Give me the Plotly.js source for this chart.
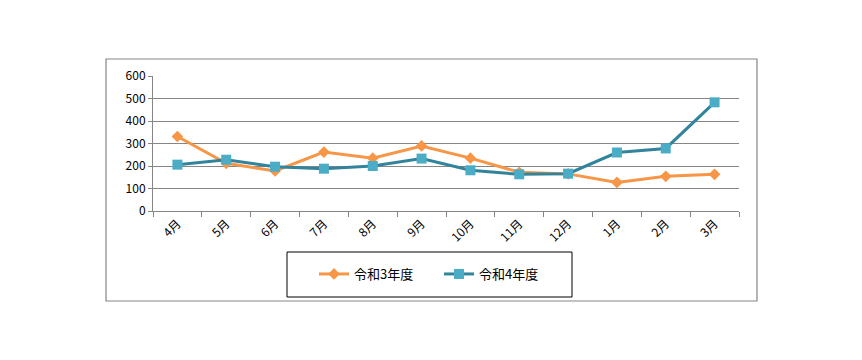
<!DOCTYPE html>
<html>
<head>
<meta charset="utf-8">
<script src="https://cdn.plot.ly/plotly-3.0.1.min.js"></script>
<style>html,body{margin:0;padding:0;background:#fff;}#chart{width:862px;height:360px;}</style>
</head>
<body>
<div id="chart"></div>
<script>
const months = ["4月","5月","6月","7月","8月","9月","10月","11月","12月","1月","2月","3月"];
const seriesNames = ["令和3年度","令和4年度"];
const r3 = [331, 212, 178, 262, 235, 289, 235, 172, 165, 127, 154, 163];
const r4 = [206, 228, 197, 188, 200, 233, 181, 163, 166, 260, 278, 483];
const yTicks = [0,100,200,300,400,500,600];

const FONT = "'Noto Sans CJK JP', 'Noto Sans', sans-serif";
const traces = [
  {x: months, y: r3, name: seriesNames[0], type: "scatter", mode: "lines+markers",
   line: {color: "#F79646", width: 3}, marker: {symbol: "diamond", size: 9, color: "#F79646"}},
  {x: months, y: r4, name: seriesNames[1], type: "scatter", mode: "lines+markers",
   line: {color: "#31849B", width: 3}, marker: {symbol: "square", size: 10, color: "#4BACC6"}}
];
const L = 153, R = 739, T = 76, B = 211;
const W = R - L, H = B - T;
const px = v => (v - L) / W;
const py = v => (B - v) / H;
const layout = {
  width: 862, height: 360,
  margin: {l: L, r: 862 - R, t: T, b: 360 - B},
  paper_bgcolor: "#fff", plot_bgcolor: "#fff",
  font: {family: FONT, size: 12, color: "#000"},
  showlegend: true,
  legend: {orientation: "h", x: px(314), xanchor: "left", y: py(274), yanchor: "middle",
           bgcolor: "rgba(0,0,0,0)", borderwidth: 0, font: {size: 13, family: FONT},
           entrywidth: 80, itemwidth: 30, tracegroupgap: 0},
  xaxis: {type: "category", range: [-0.5, 11.5], showline: true, linecolor: "#868686", linewidth: 1,
          ticks: "outside", tickson: "boundaries", ticklen: 5, tickcolor: "#868686",
          tickangle: -45, showgrid: false, zeroline: false, fixedrange: true,
          tickfont: {size: 12, family: FONT}},
  yaxis: {range: [0, 600], tickvals: yTicks, showline: true, linecolor: "#868686", linewidth: 1,
          ticks: "outside", ticklen: 4, tickcolor: "#868686",
          showgrid: true, gridcolor: "#868686", gridwidth: 1, zeroline: false,
          tickfont: {size: 12, family: FONT}, fixedrange: true},
  shapes: [
    {type: "rect", xref: "paper", yref: "paper", x0: px(106), x1: px(757), y0: py(301), y1: py(59),
     line: {color: "#868686", width: 1.2}, layer: "below"},
    {type: "rect", xref: "paper", yref: "paper", x0: px(287), x1: px(572), y0: py(297), y1: py(252),
     line: {color: "#000", width: 1}, layer: "below"}
  ]
};
Plotly.newPlot("chart", traces, layout, {displayModeBar: false, staticPlot: true});
</script>
</body>
</html>
